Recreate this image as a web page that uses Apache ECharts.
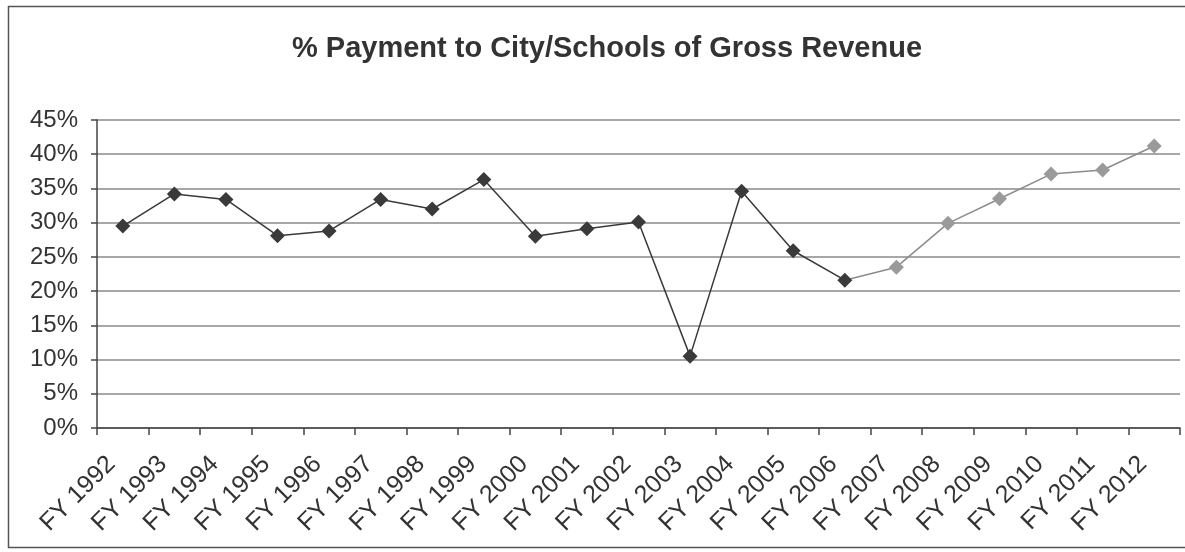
<!DOCTYPE html>
<html>
<head>
<meta charset="utf-8">
<style>
  html, body { margin: 0; padding: 0; background: #ffffff; }
  #chart { width: 1185px; height: 552px; }
</style>
<script src="https://cdn.jsdelivr.net/npm/echarts@6/dist/echarts.min.js"></script>
</head>
<body>
<div id="chart"></div>
<script>
// Fiscal years on the category axis
const years = [
  'FY 1992', 'FY 1993', 'FY 1994', 'FY 1995', 'FY 1996', 'FY 1997', 'FY 1998',
  'FY 1999', 'FY 2000', 'FY 2001', 'FY 2002', 'FY 2003', 'FY 2004', 'FY 2005',
  'FY 2006', 'FY 2007', 'FY 2008', 'FY 2009', 'FY 2010', 'FY 2011', 'FY 2012'
];

// Payment to city/schools as a percent of gross revenue, FY1992-FY2006
const historicPct = [29.5, 34.2, 33.4, 28.1, 28.8, 33.4, 32.0, 36.3, 28.0, 29.1, 30.1, 10.5, 34.6, 25.9, 21.6];

// Later years, FY2007-FY2012
const recentPct = [23.5, 29.9, 33.5, 37.1, 37.7, 41.2];

// Value axis ticks
const yMin = 0;
const yMax = 45;
const yStep = 5;

const nHist = historicPct.length;
const darkData = years.map((_, i) => (i < nHist ? historicPct[i] : null));
const grayData = years.map((_, i) => {
  if (i === nHist - 1) return { value: historicPct[i], symbolSize: 0 };
  if (i >= nHist) return recentPct[i - nHist];
  return null;
});

const textColor = '#333333';
const font = 'Liberation Sans, Arial, sans-serif';

const chart = echarts.init(document.getElementById('chart'), null, { renderer: 'canvas' });
chart.setOption({
  animation: false,
  backgroundColor: '#ffffff',
  title: {
    text: '% Payment to City/Schools of Gross Revenue',
    left: 602,
    top: 29,
    textAlign: 'center',
    textStyle: { fontFamily: font, fontWeight: 'bold', fontSize: 29, color: textColor }
  },
  graphic: [{
    type: 'rect',
    shape: { x: 8.5, y: 6.5, width: 1190, height: 541 },
    style: { fill: null, stroke: '#555555', lineWidth: 1.5 },
    silent: true,
    z: -1
  }],
  grid: { left: 97, right: 5, top: 120, bottom: 124 },
  xAxis: {
    type: 'category',
    data: years,
    boundaryGap: true,
    axisLine: { show: true, lineStyle: { color: '#444444', width: 1.5 } },
    axisTick: { show: true, alignWithLabel: false, length: 7, lineStyle: { color: '#444444', width: 1.5 } },
    axisLabel: {
      interval: 0,
      rotate: 45,
      margin: 21,
      padding: [0, 16, 0, 0],
      fontFamily: font,
      fontSize: 25,
      color: textColor
    },
    splitLine: { show: false }
  },
  yAxis: {
    type: 'value',
    min: yMin,
    max: yMax,
    interval: yStep,
    axisLine: { show: true, lineStyle: { color: '#444444', width: 1.5 } },
    axisTick: { show: true, length: 6, lineStyle: { color: '#444444', width: 1.5 } },
    axisLabel: {
      formatter: '{value}%',
      margin: 19,
      fontFamily: font,
      fontSize: 24,
      color: textColor
    },
    splitLine: { show: true, lineStyle: { color: '#8a8a8a', width: 1.5 } }
  },
  series: [
    {
      name: 'recent',
      type: 'line',
      data: grayData,
      connectNulls: false,
      symbol: 'diamond',
      symbolSize: 15,
      lineStyle: { color: '#8c8c8c', width: 1.5 },
      itemStyle: { color: '#9a9a9a' },
      z: 2
    },
    {
      name: 'historic',
      type: 'line',
      data: darkData,
      connectNulls: false,
      symbol: 'diamond',
      symbolSize: 15,
      lineStyle: { color: '#3a3a3a', width: 1.5 },
      itemStyle: { color: '#3a3a3a' },
      z: 3
    }
  ]
});
</script>
</body>
</html>
